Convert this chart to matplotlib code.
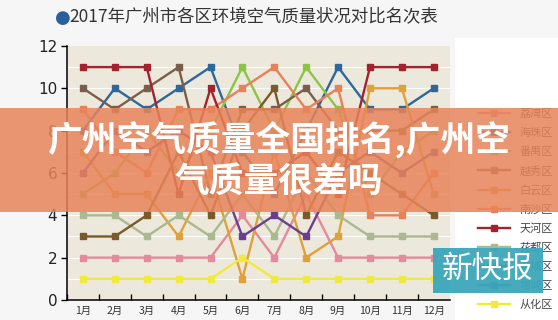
import matplotlib
matplotlib.use('Agg')
import matplotlib.pyplot as plt
from matplotlib.patches import Rectangle

plt.rcParams['font.family'] = ['Noto Sans CJK SC', 'DejaVu Sans']

months = ['1月', '2月', '3月', '4月', '5月', '6月', '7月', '8月', '9月', '10月', '11月', '12月']
districts = ['荔湾区', '海珠区', '番禺区', '越秀区', '白云区', '南沙区',
             '天河区', '花都区', '黄埔区', '增城区', '从化区']

# monthly ranking of each district (estimated; middle rows sit under the banner)
liwan = [2, 2, 2, 2, 2, 4, 2, 5, 2, 2, 2, 2]
haizhu = [8, 10, 9, 10, 11, 7, 5, 8, 11, 9, 9, 10]
panyu = [5, 6, 8, 6, 8, 11, 8, 11, 9, 5, 7, 8]
yuexiu = [10, 9, 10, 11, 5, 9, 9, 10, 8, 8, 8, 9]
baiyun = [7, 5, 5, 3, 6, 1, 7, 2, 3, 10, 10, 5]
nansha = [9, 7, 6, 9, 9, 10, 11, 9, 10, 4, 4, 6]
tianhe = [11, 11, 11, 5, 10, 6, 6, 7, 5, 11, 11, 11]
huadu = [4, 4, 3, 4, 3, 5, 3, 6, 4, 3, 3, 3]
huangpu = [3, 3, 4, 7, 4, 8, 10, 4, 7, 6, 5, 4]
zengcheng = [6, 8, 7, 8, 7, 3, 4, 3, 6, 7, 6, 7]
conghua = [1, 1, 1, 1, 1, 2, 1, 1, 1, 1, 1, 1]

series = [liwan, haizhu, panyu, yuexiu, baiyun, nansha,
          tianhe, huadu, huangpu, zengcheng, conghua]
colors = ['#e48a9c', '#2d679c', '#8cc447', '#7c5d4b', '#dfa13a', '#e8805a',
          '#a3222e', '#aab98f', '#7a5a2a', '#6b3f8f', '#f1ea3e']

fig = plt.figure(figsize=(5.58, 3.2), dpi=100, facecolor='#f6f6f6')
fig.add_artist(Rectangle((0.815, 0), 0.185, 0.88, transform=fig.transFigure,
                         facecolor='white', edgecolor='none', zorder=0))

ax = fig.add_axes([0.120, 0.0625, 0.686, 0.794])
ax.set_facecolor('#ede8dc')
x = list(range(1, 13))
for i in range(1, 12):
    ax.axhline(i, color='white', lw=0.8, zorder=1)

for name, vals, c in zip(districts, series, colors):
    ax.plot(x, vals, color=c, lw=1.7, marker='s', markersize=4.5,
            label=name, zorder=3)

ax.set_xlim(0.5, 12.5)
ax.set_ylim(0, 12)
ax.set_yticks(range(0, 13, 2))
ax.set_yticklabels([str(v) for v in range(0, 13, 2)], fontsize=11,
                   family='DejaVu Sans', color='#222')
ax.set_xticks(x)
ax.set_xticklabels(months, fontsize=7.5, color='#333')
ax.set_xticks([v + 0.5 for v in range(0, 12)], minor=True)
ax.tick_params(axis='x', which='major', length=0, pad=4)
ax.tick_params(axis='x', which='minor', direction='in', length=4, width=1)
ax.tick_params(axis='y', direction='out', length=4, width=1, pad=3)
for s in ['top', 'right']:
    ax.spines[s].set_visible(False)
ax.spines['left'].set_linewidth(1.1)
ax.spines['bottom'].set_linewidth(1.1)

leg = fig.legend(loc='upper left', bbox_to_anchor=(0.849, 0.675), frameon=False,
                 fontsize=8, handlelength=2.9, labelspacing=0.78,
                 handletextpad=0.8, borderpad=0.4, borderaxespad=0)
for t in leg.get_texts():
    t.set_color('#444')

# title with round bullet
fig.text(0.112, 0.945, '●', fontsize=13, color='#2a5f9e', va='center',
         ha='center', family='DejaVu Sans')
fig.text(0.125, 0.945, '2017年广州市各区环境空气质量状况对比名次表',
         fontsize=12.5, color='#333', va='center', ha='left')

# headline banner across the middle
fig.add_artist(Rectangle((0, 0.338), 1, 0.325, transform=fig.transFigure,
                         facecolor='#e8845a', edgecolor='none', alpha=0.85,
                         zorder=10))
fig.text(0.5, 0.565, '广州空气质量全国排名,广州空', fontsize=25, color='white',
         weight='bold', ha='center', va='center', zorder=11)
fig.text(0.5, 0.432, '气质量很差吗', fontsize=25, color='white',
         weight='bold', ha='center', va='center', zorder=11)

# watermark badge
fig.add_artist(Rectangle((0.776, 0.085), 0.197, 0.14, transform=fig.transFigure,
                         facecolor='#3ba7ba', edgecolor='none', alpha=0.95,
                         zorder=10))
fig.text(0.874, 0.157, '新快报', fontsize=22, color='white', ha='center',
         va='center', zorder=11)

fig.savefig('out.png', dpi=100, facecolor=fig.get_facecolor())
